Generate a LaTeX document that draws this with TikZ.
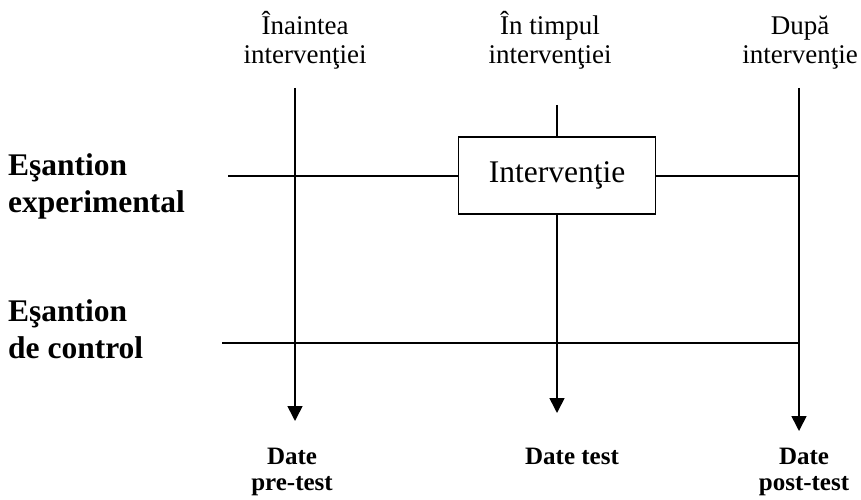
\documentclass[tikz,border=0pt]{standalone}
\usepackage{fontspec}
\setmainfont{Liberation Serif}
\usetikzlibrary{arrows.meta}
\begin{document}
\begin{tikzpicture}[x=1pt,y=-1pt,
  ln/.style={line width=1.6pt},
  arr/.style={ln,-{Triangle[width=15pt,length=15pt]}},
  toplbl/.style={align=center,inner sep=0pt,anchor=base,font=\fontsize{27}{29}\selectfont},
  sidelbl/.style={align=left,inner sep=0pt,anchor=base west,font=\bfseries\fontsize{31.5}{37}\selectfont},
  botlbl/.style={align=center,inner sep=0pt,anchor=base,font=\bfseries\fontsize{25}{26}\selectfont},
  boxnode/.style={draw,ln,minimum width=197pt,minimum height=77pt,inner sep=0pt,font=\fontsize{31.5}{36}\selectfont}
]
\useasboundingbox (0,0) rectangle (861,500);

% top labels (anchor = baseline of last line)
\node[toplbl] (t1) at (305,64) {Înaintea\\intervenţiei};
\node[toplbl] (t2) at (550,64) {În timpul\\intervenţiei};
\node[toplbl] (t3) at (800,64) {După\\intervenţie};

% side labels
\node[sidelbl] (s1) at (8,212) {Eşantion\\experimental};
\node[sidelbl] (s2) at (8,358) {Eşantion\\de control};

% bottom labels
\node[botlbl] (b1) at (292,490) {Date\\pre-test};
\node[botlbl] (b2) at (572,464) {Date test};
\node[botlbl] (b3) at (804,490) {Date\\post-test};

% box
\node[boxnode] (box) at (557,175.5) {Intervenţie};

% coordinates
\coordinate (v1s) at (295,88);
\coordinate (v1e) at (295,421);
\coordinate (v2s) at (557,105);
\coordinate (v2e) at (557,413);
\coordinate (v3s) at (799,88);
\coordinate (v3e) at (799,431);
\coordinate (h1s) at (228,176);
\coordinate (h1e) at (799,176);
\coordinate (h2s) at (222,343);
\coordinate (h2e) at (799,343);

% vertical lines
\draw[arr] (v1s) -- (v1e);
\draw[ln] (v2s) -- (box.north);
\draw[arr] (box.south) -- (v2e);
\draw[arr] (v3s) -- (v3e);

% horizontal lines
\draw[ln] (h1s) -- (h1s -| box.west);
\draw[ln] (h1e -| box.east) -- (h1e);
\draw[ln] (h2s) -- (h2e);
\end{tikzpicture}
\end{document}
